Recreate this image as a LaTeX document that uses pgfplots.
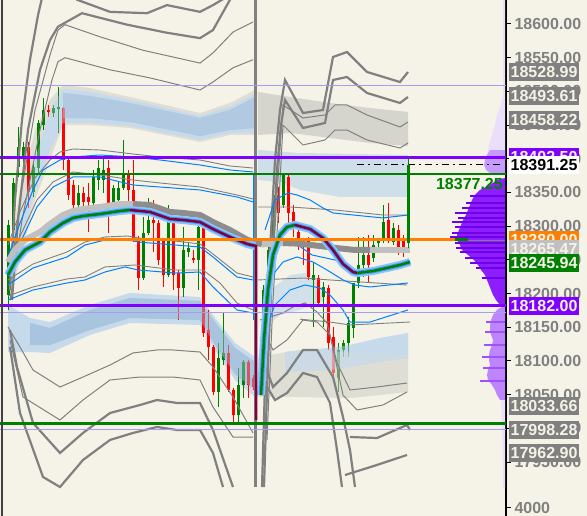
\documentclass[border=0pt]{standalone}
\usepackage{pgfplots}
\pgfplotsset{compat=1.18}
\usepackage{pgfplotstable}
\usepackage{fontspec}
\setmainfont{Liberation Sans}
\definecolor{bg}{RGB}{245,243,231}
\definecolor{cgreen}{RGB}{0,128,0}
\definecolor{cred}{RGB}{255,0,0}
\definecolor{lgray}{RGB}{128,128,128}
\definecolor{lgray2}{RGB}{192,192,192}
\definecolor{bandgray}{RGB}{223,222,213}
\definecolor{bandgray2}{RGB}{214,213,205}
\definecolor{bandlb}{RGB}{198,218,235}
\definecolor{bandblue}{RGB}{166,194,221}
\definecolor{vblue}{RGB}{0,128,255}
\definecolor{glow}{RGB}{140,196,250}
\definecolor{glow2}{RGB}{60,155,250}
\definecolor{vmaroon}{RGB}{128,0,64}
\definecolor{vpurple}{RGB}{128,0,255}
\definecolor{lpurple}{RGB}{168,156,240}
\definecolor{vorange}{RGB}{255,128,0}
\definecolor{pz1}{RGB}{234,222,250}
\definecolor{pz2}{RGB}{197,155,255}
\definecolor{pz3}{RGB}{140,30,255}
\definecolor{pz3s}{RGB}{112,0,232}
\definecolor{pz4}{RGB}{189,134,255}
\definecolor{pz4s}{RGB}{160,80,255}

% candles: x, open, close-open, low, high-low
\pgfplotstableread{
x o dc l dh
8.3 18198 104 18176 133
13.3 18294 70 18284 88
18.3 18388 30 18373 74
23.3 18403 15 18369 56
33.3 18351 37 18343 52
38.3 18386 67 18376 82
43.3 18450 22 18443 47
53.3 18468 7 18462 18
58.3 18474 3 18438 69
78.3 18331 18 18329 32
93.3 18334 39 18331 52
98.3 18369 17 18354 44
103.3 18369 14 18349 54
113.3 18334 23 18324 37
118.3 18339 18 18334 32
123.3 18357 19 18354 74
143.3 18223 67 18220 94
148.3 18290 19 18287 55
168.3 18228 86 18225 106
183.3 18208 57 18195 104
188.3 18262 6 18254 21
198.3 18250 49 18205 116
218.3 18054 50 18032 95
223.3 18102 10 18094 79
238.3 18020 44 18008 82
243.3 18064 35 18045 57
263.3 18057 148 18054 159
268.3 18186 79 18176 96
273.3 18284 62 18280 74
283.3 18331 45 18327 52
313.3 18220 8 18150 97
323.3 18195 15 18150 67
338.3 18075 41 18054 73
343.3 18116 11 18106 25
348.3 18127 29 18106 59
353.3 18149 67 18134 82
358.3 18216 26 18208 76
363.3 18242 15 18225 59
373.3 18253 19 18247 40
378.3 18275 5 18265 18
383.3 18280 26 18275 56
393.3 18277 20 18272 33
408.3 18275 116.25 18268 135
}\greenc
\pgfplotstableread{
x o dc l dh
28.3 18418 -67 18327 98
48.3 18472 -3 18462 18
63.3 18475 -77 18383 94
68.3 18398 -52 18339 62
73.3 18361 -30 18327 42
83.3 18349 -13 18314 44
88.3 18343 -7 18291 73
108.3 18386 -55 18290 108
128.3 18376 -22 18324 59
133.3 18354 -74 18277 121
138.3 18283 -60 18205 80
153.3 18309 -4 18262 77
158.3 18305 -55 18242 67
163.3 18280 -52 18210 73
173.3 18309 -81 18205 107
178.3 18231 -23 18161 74
193.3 18253 -3 18245 20
203.3 18299 -157 18136 163
208.3 18146 -25 18102 74
213.3 18121 -67 18050 74
228.3 18112 -55 18054 70
233.3 18057 -37 18008 52
248.3 18099 -35 18045 57
253.3 18075 -14 18057 22
278.3 18346 -26 18305 53
288.3 18373 -53 18305 74
293.3 18321 -22 18284 47
298.3 18291 -8 18265 41
303.3 18275 -6 18242 38
308.3 18280 -55 18220 64
318.3 18223 -37 18180 48
328.3 18208 -81 18116 97
333.3 18136 -54 18076 74
368.3 18257 -15 18217 70
388.3 18309 -26 18275 59
398.3 18294 -32 18257 45
403.3 18283 -23 18254 33
}\redc

% shaded bands
\pgfplotstableread{
x y
10 18264.7
20 18353.7
35 18442.7
50 18487.2
63 18509.5
90 18505.0
130 18491.7
200 18467.9
230 18482.8
255 18502.1
255 18435.3
230 18435.3
200 18424.9
130 18445.7
90 18450.1
63 18450.1
50 18398.2
35 18338.9
20 18249.8
10 18190.5
}\bandAout
\pgfplotstableread{
x y
20 18294.3
35 18398.2
50 18472.4
63 18503.5
90 18499.1
130 18487.2
200 18463.5
230 18476.9
255 18496.1
255 18438.3
230 18438.3
200 18427.9
130 18448.7
90 18453.1
63 18453.1
50 18413.0
35 18353.7
20 18264.7
}\bandAmid
\pgfplotstableread{
x y
63 18497.6
90 18493.2
130 18482.8
200 18460.5
230 18472.4
255 18491.7
255 18445.7
230 18442.7
200 18433.8
130 18454.6
90 18460.5
63 18460.5
}\bandAin
\pgfplotstableread{
x y
8 18183.1
30 18163.8
50 18157.8
90 18183.1
130 18200.9
200 18194.9
215 18163.8
235 18126.7
255 18105.9
255 18046.6
235 18071.8
215 18116.3
200 18153.4
130 18156.4
90 18138.6
50 18111.9
30 18113.3
8 18113.3
}\bandBout
\pgfplotstableread{
x y
30 18156.4
50 18148.9
90 18175.7
130 18193.4
200 18189.0
215 18157.8
235 18119.3
255 18098.5
255 18057.0
235 18080.7
215 18123.7
200 18160.8
130 18163.8
90 18146.0
50 18123.7
30 18123.7
}\bandBin
\pgfplotstableread{
x y
258 18499.1
290 18491.7
330 18482.8
370 18475.4
408 18469.4
408 18419.0
370 18423.4
330 18430.9
290 18438.3
258 18435.3
}\bandC
\pgfplotstableread{
x y
258 18413.0
300 18408.6
408 18405.6
408 18343.3
340 18343.3
300 18353.7
280 18365.6
258 18368.5
}\bandD
\pgfplotstableread{
x y
258 18105.9
300 18116.3
350 18113.3
408 18108.8
408 18054.0
350 18045.1
300 18046.6
258 18046.6
}\bandEg
\pgfplotstableread{
x y
285 18113.3
330 18119.3
350 18123.7
380 18134.1
408 18141.5
408 18104.4
380 18098.5
350 18091.1
330 18086.6
285 18083.7
}\bandEb
\pgfplotstableread{
x y
262 18168.2
270 18205.3
290 18227.6
305 18230.5
318 18217.2
325 18190.5
300 18175.7
280 18168.2
268 18153.4
}\bandF

% volume profile
\pgfplotstableread{
x y
505 18636
503 18636
503 18494.6
501 18479.8
497 18465.0
495 18450.1
492 18435.3
489 18420.5
487 18405.6
486 18398.2
505 18398.2
}\pzoneA
\pgfplotstableread{
x y
505 18413.0
490 18413.0
487 18405.6
485 18398.2
484 18390.8
486 18383.4
490 18378.9
505 18378.9
}\pzoneB
\pgfplotstableread{
x y
505 18371.5
497 18368.5
490 18361.1
480 18353.7
475 18346.3
472 18338.9
470 18331.4
468 18324.0
466 18316.6
463 18309.2
461 18301.8
459 18294.3
457 18286.9
457 18279.5
460 18272.1
462 18264.7
468 18257.3
474 18249.8
478 18242.4
481 18235.0
485 18227.6
487 18220.2
489 18212.7
491 18205.3
493 18197.9
496 18190.5
500 18183.1
505 18183.1
}\pzoneC
\pgfplotstableread{
x y
505 18183.1
497 18175.7
493 18168.2
491 18160.8
490 18153.4
490 18146.0
491 18138.6
493 18131.1
492 18123.7
490 18116.3
489 18108.8
489 18101.5
490 18094.0
488 18086.6
487 18079.2
488 18071.8
492 18064.4
495 18057.0
497 18049.5
500 18042.1
505 18042.1
}\pzoneD
\pgfplotstableread{
x y
505 18042.1
501 18042.1
502 17997.6
503 17953.1
503 17911.5
505 17911.5
}\pzoneE
\pgfplotstableread{
x y u
470 18344.8 35
466 18334.4 39
462 18327.0 43
455 18319.6 50
458 18312.2 47
452 18306.2 53
455 18298.8 50
452 18289.9 53
450 18284.0 55
455 18275.1 50
456 18267.6 49
460 18261.7 45
465 18252.8 40
470 18245.4 35
476 18238.0 29
482 18223.1 23
}\pspikeC
\pgfplotstableread{
x y u
486 18157.8 19
485 18143.0 20
484 18123.7 21
482 18105.9 23
483 18089.6 22
480 18070.3 25
}\pspikeD

\tikzset{lbl/.style={anchor=west, inner xsep=1.5pt, inner ysep=0pt, minimum height=18pt,
  font=\fontsize{16}{16}\selectfont\bfseries}}

\begin{document}
\begin{tikzpicture}
\useasboundingbox (0,0) rectangle (587pt,516pt);
\fill[bg] (0,0) rectangle (587pt,516pt);
\begin{axis}[
  at={(0,0)}, anchor=south west, scale only axis,
  width=506pt, height=516pt,
  xmin=0, xmax=506, ymin=17870, ymax=18635.6,
  axis x line=none, axis y line*=right,
  y axis line style={black, line width=1.2pt},
  ytick={17950,18000,...,18600},
  scaled y ticks=false,
  extra y ticks={17882}, extra y tick labels={4000},
  tick align=outside, major tick length=5pt,
  tick style={black, line width=1pt},
  minor tick num=0,
  yticklabel style={font=\fontsize{16}{16}\selectfont\bfseries, text=lgray, anchor=west, xshift=0pt,
    /pgf/number format/fixed, /pgf/number format/fixed zerofill,
    /pgf/number format/precision=2, /pgf/number format/1000 sep={},
    /pgf/number format/assume math mode=true},
]
% bands (opaque)
\addplot[fill=bandgray, draw=none] table {\bandAout};
\addplot[fill=bandlb, draw=none] table {\bandAmid};
\addplot[fill=bandblue, draw=none] table {\bandAin};
\addplot[fill=bandlb, draw=none] table {\bandBout};
\addplot[fill=bandblue!85!bandlb, draw=none] table {\bandBin};
\addplot[fill=bandgray2, draw=none] table {\bandC};
\addplot[fill=bandlb!80!bg, draw=none] table {\bandD};
\addplot[fill=bandgray, draw=none] table {\bandEg};
\addplot[fill=bandlb, draw=none] table {\bandEb};
\addplot[fill=bandlb!75!bg, draw=none] table {\bandF};

% volume profile
\addplot[fill=pz1, draw=none] table {\pzoneA};
\addplot[fill=pz2, draw=none] table {\pzoneB};
\addplot[fill=pz3, draw=none] table {\pzoneC};
\addplot[fill=pz4, draw=none] table {\pzoneD};
\addplot[fill=pz1, draw=none] table {\pzoneE};
\addplot[pz3s, line width=1.5pt, quiver={u=\thisrow{u}, v=0}] table[x=x,y=y] {\pspikeC};
\addplot[pz4s, line width=1.5pt, quiver={u=\thisrow{u}, v=0}] table[x=x,y=y] {\pspikeD};

% candles
\addplot[cgreen, line width=1pt, quiver={u=0, v=\thisrow{dh}}] table[x=x,y=l] {\greenc};
\addplot[cred, line width=1pt, quiver={u=0, v=\thisrow{dh}}] table[x=x,y=l] {\redc};
\addplot[cgreen, line width=3pt, quiver={u=0, v=\thisrow{dc}}] table[x=x,y=o] {\greenc};
\addplot[cred, line width=3pt, quiver={u=0, v=\thisrow{dc}}] table[x=x,y=o] {\redc};

% translucent band overlays (mute candles inside)
\addplot[fill=bandblue, fill opacity=0.45, draw=none] table {\bandAin};
\addplot[fill=bandlb, fill opacity=0.35, draw=none] table {\bandAmid};
\addplot[fill=bandblue, fill opacity=0.45, draw=none] table {\bandBin};
\addplot[fill=bandgray, fill opacity=0.45, draw=none] table {\bandEg};
\addplot[fill=bandlb, fill opacity=0.45, draw=none] table {\bandEb};

% session 1 gray envelopes
\addplot[lgray, line width=2.2pt] coordinates {(10,18205) (15,18339) (22,18458) (30,18547) (38,18613) (45,18658) (60,18665) (77,18636) (110,18618) (147,18616) (167,18628) (200,18618) (213,18628) (230,18643)};
\addplot[lgray, line width=2.2pt] coordinates {(12,18190.5) (18,18309) (28,18443) (40,18532) (50,18576) (58,18596) (82,18616) (127,18599) (167,18587) (200,18579) (213,18591) (230,18636) (240,18660)};
\addplot[lgray, line width=1pt] coordinates {(10,18220) (20,18339) (35,18472) (50,18554) (58,18591) (65,18599) (100,18581) (143,18561) (200,18542) (213,18557) (233,18588) (253,18603)};
\addplot[lgray, line width=1pt] coordinates {(10,18190) (22,18309) (40,18443) (52,18517) (58,18544) (65,18550) (110,18532) (150,18520) (200,18502) (213,18514) (233,18535) (253,18547)};
\addplot[lgray, line width=1pt] coordinates {(8,18150.5) (20,18120.8) (33,18086.6) (60,18061.4) (83,18076.2) (110,18094.0) (133,18111.9) (157,18116.3) (173,18116.3) (200,18113.3) (213,18091.1) (233,18046.6) (253,17993.2)};
\addplot[lgray, line width=1pt] coordinates {(10,18131.1) (23,18046.6) (60,18012.4) (83,18042.1) (110,18071.8) (140,18076.2) (173,18076.2) (200,18071.8) (213,18031.7) (233,17987.2) (253,17987.2)};
\addplot[lgray, line width=2.2pt] coordinates {(10,18146.0) (17,18091.1) (33,18008.0) (60,17963.5) (83,17993.2) (110,18022.8) (140,18034.7) (157,18042.1) (177,18037.7) (200,18037.7) (213,17997.6) (233,17913.0)};
\addplot[lgray, line width=2.2pt] coordinates {(10,18120.8) (20,18022.8) (43,17927.9) (60,17913.0) (83,17953.1) (110,17982.8) (133,17993.2) (157,18002.1) (177,17997.6) (200,17997.6) (213,17963.5) (223,17913.0)};
% session 1 inner gray / blue
\addplot[lgray, line width=0.9pt] coordinates {(8,18272.1) (20,18321.1) (35,18371.5) (50,18398.2) (60,18410.1) (73,18414.5) (100,18413.0) (133,18407.1) (160,18402.7) (200,18398.2) (230,18389.3) (253,18386.3)};
\addplot[lgray, line width=0.9pt] coordinates {(8,18246.9) (23,18294.3) (37,18338.9) (53,18365.6) (73,18380.4) (100,18376.0) (133,18368.5) (160,18364.1) (200,18358.1) (237,18346.3) (253,18340.3)};
\addplot[lgray, line width=0.9pt] coordinates {(8,18220.2) (33,18243.9) (67,18261.7) (85,18276.5) (105,18284.0) (128,18285.4) (138,18282.5) (175,18278.0) (200,18273.6) (213,18258.7) (237,18230.5) (253,18224.6)};
\addplot[lgray, line width=0.9pt] coordinates {(8,18196.4) (33,18209.8) (67,18221.7) (85,18224.6) (105,18239.5) (135,18242.4) (175,18235.0) (203,18235.0) (220,18215.7) (237,18186.0) (253,18175.7)};
\addplot[vblue, line width=1pt] coordinates {(8,18254.3) (20,18304.7) (33,18353.7) (43,18383.4) (60,18398.2) (73,18402.7) (100,18405.6) (133,18402.7) (160,18398.2) (200,18390.8) (230,18383.4) (253,18380.4)};
\addplot[vblue, line width=1pt] coordinates {(8,18238.0) (23,18284.0) (37,18328.5) (53,18358.1) (73,18373.0) (100,18373.0) (133,18361.1) (160,18358.1) (200,18353.7) (237,18343.3) (253,18335.9)};
\addplot[vblue, line width=1pt] coordinates {(8,18212.7) (33,18238.0) (67,18254.3) (85,18272.1) (105,18279.5) (125,18281.0) (138,18276.5) (175,18272.1) (200,18269.1) (213,18254.3) (237,18224.6) (253,18220.2)};
\addplot[vblue, line width=1pt] coordinates {(8,18190.5) (33,18205.3) (67,18215.7) (85,18220.2) (105,18232.0) (125,18239.5) (138,18235.0) (175,18230.5) (200,18232.0) (213,18209.8) (237,18175.7) (253,18171.2)};

% session break
\addplot[lgray, line width=2.5pt] coordinates {(255.5,17913) (255.5,18640)};
\addplot[vblue, line width=1pt] coordinates {(253.5,18376) (253.5,18160.8)};

% session 2 gray envelopes
\addplot[lgray, line width=2.2pt] coordinates {(262,17913.0) (266,18116.3) (270,18264.7) (275,18398.2) (280,18472.4) (285,18516.9) (303,18467.9) (323,18472.4) (333,18551.0) (347,18558.4) (367,18528.8) (400,18513.9) (408,18528.8)};
\addplot[lgray, line width=2.2pt] coordinates {(264,17913.0) (268,18101.5) (272,18249.8) (277,18383.4) (281,18450.1) (285,18487.2) (303,18445.7) (325,18453.1) (333,18516.9) (347,18521.4) (367,18497.6) (400,18482.8) (408,18491.7)};
\addplot[lgray, line width=1pt] coordinates {(266,18012.4) (272,18220.2) (278,18368.5) (283,18479.8) (303,18460.5) (325,18465.0) (335,18479.8) (347,18479.8) (367,18465.0) (400,18447.2) (408,18454.6)};
\addplot[lgray, line width=1pt] coordinates {(267,17982.8) (273,18190.5) (279,18338.9) (283,18450.1) (303,18420.5) (325,18427.9) (335,18442.7) (347,18442.7) (367,18427.9) (400,18416.0) (408,18423.4)};
\addplot[lgray, line width=1pt] coordinates {(260,18160.8) (283,18171.2) (293,18180.1) (305,18186.0) (317,18172.7) (327,18156.4) (337,18097.0) (350,18057.0) (377,18061.4) (407,18067.3)};
\addplot[lgray, line width=1pt] coordinates {(263,18146.0) (273,18116.3) (287,18131.1) (303,18160.8) (317,18157.8) (330,18138.6) (343,18049.5) (357,18027.3) (383,18034.7) (407,18054.0)};
\addplot[lgray, line width=2.2pt] coordinates {(263,18101.5) (273,18061.4) (287,18082.2) (303,18116.3) (317,18116.3) (333,18076.2) (343,18016.9) (350,17967.9) (355,17913.0)};
\addplot[lgray, line width=2.2pt] coordinates {(263,18071.8) (275,18042.1) (287,18052.5) (303,18082.2) (317,18076.2) (330,18037.7) (337,17967.9) (342,17913.0)};
\addplot[lgray, line width=2.2pt] coordinates {(350,17987.2) (377,17985.7) (407,18005.0) (410,17997.6)};
\addplot[lgray, line width=2.2pt] coordinates {(345,17930.8) (377,17945.7) (407,17960.5)};
% session 2 inner gray / blue
\addplot[lgray, line width=0.9pt] coordinates {(258,18328.5) (290,18328.5) (335,18324.0) (383,18316.6) (408,18316.6)};
\addplot[lgray, line width=0.9pt] coordinates {(258,18220.2) (303,18223.1) (330,18220.2) (407,18212.7)};
\addplot[lgray, line width=0.9pt] coordinates {(300,18162) (330,18157.8) (350,18153.4) (410,18157.8)};
\addplot[vblue, line width=1pt] coordinates {(265,18294.3) (275,18338.9) (288,18349.2) (297,18346.3) (310,18338.9) (323,18327.0) (333,18319.6) (353,18316.6) (383,18312.2) (408,18316.6)};
\addplot[vblue, line width=1pt] coordinates {(268,18249.8) (282,18282.5) (295,18275.1) (312,18257.3) (335,18249.8) (345,18245)};
\addplot[vblue, line width=1pt] coordinates {(265,18190.5) (275,18232.0) (283,18246.9) (297,18254.3) (313,18246.9) (327,18235.0) (343,18220.2) (355,18212.7) (370,18209.8) (408,18215.7)};
\addplot[vblue, line width=1pt] coordinates {(265,18146.0) (275,18183.1) (290,18205.3) (305,18212.7) (320,18208.3) (330,18197.9) (343,18175.7) (350,18157.8) (370,18157.8) (408,18175.7)};

% VWAP gray band
\addplot[lgray2, line width=6pt] coordinates {(8,18246.9) (15,18264.7) (25,18279.5) (40,18291.4) (50,18303.2) (63,18316.6) (73,18322.5) (83,18325.5) (100,18328.5) (120,18332.9) (135,18332.9)};
\addplot[lgray!90!white, line width=6pt] coordinates {(133,18332.9) (150,18331.4) (170,18321.1) (183,18319.6) (200,18316.6) (213,18306.2) (230,18294.3) (247,18280) (262,18273)};
\addplot[lgray2, line width=6pt] coordinates {(262,18273) (285,18275)};
\addplot[lgray!90!white, line width=6pt] coordinates {(283,18275) (300,18274) (323,18270) (340,18267) (353,18265) (372,18265)};
\addplot[lgray2, line width=6pt] coordinates {(370,18265) (410,18265)};
% VWAP glow and line
\addplot[glow, line width=8pt, line join=round] coordinates {(8,18227.6) (15,18246.9) (25,18264.7) (40,18276.5) (50,18291.4) (63,18304.7) (73,18312.2) (83,18315.1) (100,18318.1) (120,18322.5) (130,18324.0) (150,18321.1) (170,18310.7) (183,18309.2) (200,18306.2) (213,18295.8) (230,18284.0) (247,18273.6) (255,18270.6)};
\addplot[glow2, line width=4.5pt, line join=round] coordinates {(8,18227.6) (15,18246.9) (25,18264.7) (40,18276.5) (50,18291.4) (63,18304.7) (73,18312.2) (83,18315.1) (100,18318.1) (120,18322.5) (130,18324.0) (150,18321.1) (170,18310.7) (183,18309.2) (200,18306.2) (213,18295.8) (230,18284.0) (247,18273.6) (255,18270.6)};
\addplot[glow, line width=8pt, line join=round] coordinates {(261,18049.5) (264,18131.1) (268,18205.3) (273,18257.3) (280,18286.9) (287,18298.8) (295,18301.8) (310,18295.8) (323,18282.5) (333,18264.7) (343,18243.9) (353,18232.0) (357,18230.5) (373,18233.5) (387,18238.0) (400,18242.4) (410,18246.9)};
\addplot[glow2, line width=4.5pt, line join=round] coordinates {(261,18049.5) (264,18131.1) (268,18205.3) (273,18257.3) (280,18286.9) (287,18298.8) (295,18301.8) (310,18295.8) (323,18282.5) (333,18264.7) (343,18243.9) (353,18232.0) (357,18230.5) (373,18233.5) (387,18238.0) (400,18242.4) (410,18246.9)};
\addplot[cgreen, line width=2.5pt] coordinates {(8,18227.6) (15,18246.9) (25,18264.7) (40,18276.5) (50,18291.4) (63,18304.7) (73,18312.2) (83,18315.1) (100,18318.1) (120,18322.5) (130,18324.0)};
\addplot[vmaroon, line width=2.5pt] coordinates {(130,18324.0) (150,18321.1) (170,18310.7) (183,18309.2) (200,18306.2) (213,18295.8) (230,18284.0) (247,18273.6) (256,18270.6) (256,18012.4)};
\addplot[cgreen, line width=2.5pt] coordinates {(261,18049.5) (264,18131.1) (268,18205.3) (273,18257.3) (280,18286.9) (287,18298.8) (295,18301.8)};
\addplot[vmaroon, line width=2.5pt] coordinates {(295,18301.8) (310,18295.8) (323,18282.5) (333,18264.7) (343,18243.9) (353,18232.0) (357,18230.5)};
\addplot[cgreen, line width=2.5pt] coordinates {(357,18230.5) (373,18233.5) (387,18238.0) (400,18242.4) (410,18246.9)};

% level lines
\addplot[lpurple, line width=1pt] coordinates {(0,18508) (506,18508)};
\addplot[lpurple, line width=1pt] coordinates {(0,18171.7) (506,18171.7)};
\addplot[lpurple, line width=1pt] coordinates {(0,17998.7) (506,17998.7)};
\addplot[vpurple, line width=3pt] coordinates {(0,18402.5) (506,18402.5)};
\addplot[vpurple, line width=3pt] coordinates {(0,18182) (506,18182)};
\addplot[cgreen, line width=2.5pt] coordinates {(0,18377.25) (506,18377.25)};
\addplot[cgreen, line width=2.5pt] coordinates {(0,18007.5) (506,18007.5)};
\addplot[vorange, line width=2.5pt] coordinates {(0,18280) (455,18280)};
\addplot[cgreen, line width=3pt] coordinates {(455,18280) (468,18280)};
\addplot[lgray, line width=1pt] coordinates {(468,18279) (505,18279)};
\addplot[black, line width=1pt, dash pattern=on 7pt off 4pt on 2pt off 4pt] coordinates {(357,18391.25) (500,18391.25)};
% last candle over levels
\addplot[cgreen, line width=3pt, quiver={u=0, v=116.25}] coordinates {(408.3,18275)};
\addplot[cgreen, line width=1pt, quiver={u=0, v=135}] coordinates {(408.3,18268)};
% left border
\addplot[black!75, line width=1.5pt] coordinates {(2,17870) (2,18635.6)};

\coordinate (b1) at (axis cs:506,18528.99);
\coordinate (b2) at (axis cs:506,18493.61);
\coordinate (b3) at (axis cs:506,18458.22);
\coordinate (b4) at (axis cs:506,18402.50);
\coordinate (b5) at (axis cs:506,18391.25);
\coordinate (b6) at (axis cs:506,18280.00);
\coordinate (b7) at (axis cs:506,18265.47);
\coordinate (b8) at (axis cs:506,18245.94);
\coordinate (b9) at (axis cs:506,18182.00);
\coordinate (b10) at (axis cs:506,18033.66);
\coordinate (b11) at (axis cs:506,17998.28);
\coordinate (b12) at (axis cs:506,17962.90);
\coordinate (gl) at (axis cs:503,18362.6);
\end{axis}
\node[lbl, fill=lgray, text=bg] at ([xshift=3pt]b1) {18528.99};
\node[lbl, fill=lgray, text=bg] at ([xshift=3pt]b2) {18493.61};
\node[lbl, fill=lgray, text=bg] at ([xshift=3pt]b3) {18458.22};
\node[lbl, fill=vpurple, text=bg] at ([xshift=3pt]b4) {18402.50};
\node[lbl, fill=white, text=black] at ([xshift=3pt]b5) {18391.25};
\node[lbl, fill=vorange, text=bg] at ([xshift=3pt]b6) {18280.00};
\node[lbl, fill=lgray2, text=bg] at ([xshift=3pt]b7) {18265.47};
\node[lbl, fill=cgreen, text=bg] at ([xshift=3pt]b8) {18245.94};
\node[lbl, fill=vpurple, text=bg] at ([xshift=3pt]b9) {18182.00};
\node[lbl, fill=lgray, text=bg] at ([xshift=3pt]b10) {18033.66};
\node[lbl, fill=lgray, text=bg] at ([xshift=3pt]b11) {17998.28};
\node[lbl, fill=lgray, text=bg] at ([xshift=3pt]b12) {17962.90};
\node[anchor=east, inner sep=0pt, text=cgreen, font=\fontsize{16}{16}\selectfont\bfseries] at (gl) {18377.25};
\end{tikzpicture}
\end{document}
